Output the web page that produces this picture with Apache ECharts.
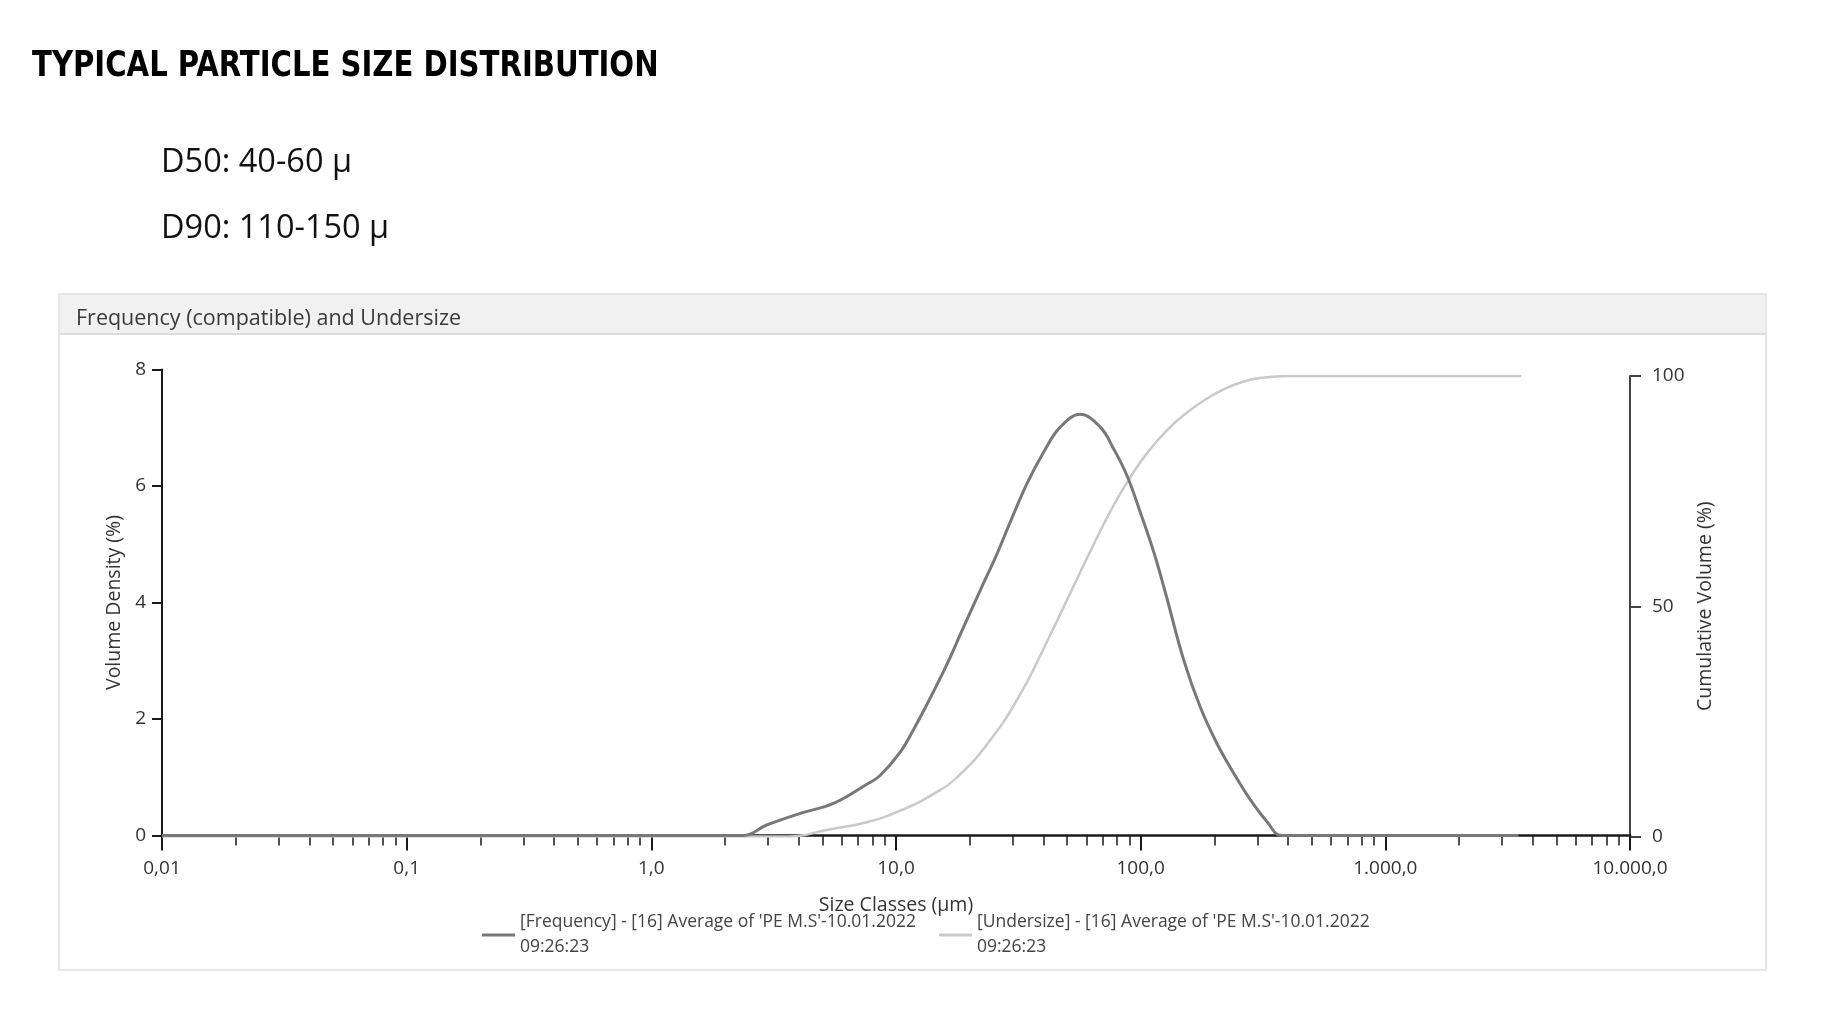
<!DOCTYPE html>
<html>
<head>
<meta charset="utf-8">
<script src="https://cdn.jsdelivr.net/npm/echarts@6/dist/echarts.min.js"></script>
<style>
  html, body { margin: 0; padding: 0; background: #fff; }
  #main { width: 1840px; height: 1034px; }
</style>
</head>
<body>
<div id="main"></div>
<script>
// size classes (µm) and volume density (%)
const freqSizes = [0.01, 2.38, 2.96, 4.06, 5.55, 7.6, 8.61, 10.4, 11.8, 13.8, 16.2, 18.9, 22.1, 25.9, 29.3, 34.3, 40.1, 46.9, 56.6, 68.4, 77.5, 87.9, 99.6, 113, 126, 150, 175, 205, 240, 281, 328, 378, 3500];
const frequency = [0, 0, 0.18, 0.38, 0.55, 0.88, 1.03, 1.43, 1.82, 2.36, 2.95, 3.58, 4.21, 4.84, 5.38, 6.04, 6.58, 7.01, 7.23, 7.01, 6.64, 6.18, 5.55, 4.87, 4.18, 3.01, 2.21, 1.58, 1.07, 0.61, 0.24, 0, 0];

// cumulative volume (%) - undersize curve
const underSizes = [0.01, 3.47, 5.55, 7.6, 10.4, 14.2, 17.7, 24, 32.2, 42, 51.5, 64.1, 77.5, 90.7, 106, 128, 155, 187, 220, 260, 310, 400, 3600];
const undersize = [0, 0, 1.7, 3.1, 5.6, 9.2, 12.8, 20.6, 30.9, 43, 52.8, 63.3, 71.9, 78, 83.2, 88.2, 92.1, 95.1, 97.2, 98.7, 99.6, 100, 100];

const xTickLabels = ['0,01', '0,1', '1,0', '10,0', '100,0', '1.000,0', '10.000,0'];
const minorMultipliers = [2, 3, 4, 5, 6, 7, 8, 9];
const decades = [-2, -1, 0, 1, 2, 3];

const freqName = "[Frequency] - [16] Average of 'PE M.S'-10.01.2022 09:26:23";
const underName = "[Undersize] - [16] Average of 'PE M.S'-10.01.2022 09:26:23";

const FONT = "'Open Sans', 'Noto Sans', sans-serif";

// minor ticks at 2..9 of every decade, in log10 units for the helper axis
const minorTicks = [];
decades.forEach(d => minorMultipliers.forEach(m => minorTicks.push(Math.log10(m) + d)));

const chart = echarts.init(document.getElementById('main'));

const option = {
  animation: false,
  backgroundColor: '#fff',
  textStyle: { fontFamily: FONT },
  graphic: [
    { type: 'rect', z: -10, shape: { x: 59, y: 294, width: 1707, height: 676 },
      style: { fill: '#fff', stroke: '#e6e6e6', lineWidth: 2 } },
    { type: 'rect', z: -9, shape: { x: 60, y: 295, width: 1705, height: 39 },
      style: { fill: '#f1f1f1' } },
    { type: 'line', z: -9, shape: { x1: 60, y1: 334, x2: 1765, y2: 334 },
      style: { stroke: '#dcdcdc', lineWidth: 2 } },
    { type: 'text', x: 76, y: 319,
      style: { text: 'Frequency (compatible) and Undersize', fontFamily: FONT, fontSize: 21.5,
               fill: '#3a3a3a', verticalAlign: 'middle' } },
    { type: 'text', x: 32, y: 67, scaleX: 0.9,
      style: { text: 'TYPICAL PARTICLE SIZE DISTRIBUTION',
               fontFamily: "'Liberation Sans Narrow', 'DejaVu Sans Condensed', sans-serif",
               fontWeight: 'bold', fontSize: 36, fill: '#000', verticalAlign: 'middle' } },
    { type: 'text', x: 161, y: 163,
      style: { text: 'D50: 40-60 µ', fontFamily: FONT, fontSize: 32.5, fill: '#111', verticalAlign: 'middle' } },
    { type: 'text', x: 161, y: 229,
      style: { text: 'D90: 110-150 µ', fontFamily: FONT, fontSize: 32.5, fill: '#111', verticalAlign: 'middle' } }
  ],
  legend: {
    left: 482,
    top: 910,
    padding: 0,
    icon: 'rect',
    itemWidth: 33,
    itemHeight: 3,
    itemGap: 23,
    textStyle: { fontFamily: FONT, fontSize: 17.5, color: '#444', lineHeight: 25 },
    formatter: name => name.replace(' 09:', '\n09:'),
    data: [freqName, underName]
  },
  grid: [
    { left: 162, right: 210, top: 369.5, bottom: 198.5 },
    { left: 162, right: 210, top: 376, bottom: 197.5 }
  ],
  xAxis: [
    {
      type: 'log', gridIndex: 0, logBase: 10, min: 0.01, max: 10000, interval: 1,
      axisLine: { onZero: false, lineStyle: { color: '#1a1a1a', width: 2.5 } },
      axisTick: { length: 15, lineStyle: { color: '#1a1a1a', width: 2 } },
      axisLabel: {
        margin: 24, color: '#333', fontSize: 19, fontFamily: FONT,
        showMinLabel: true, showMaxLabel: true,
        formatter: v => xTickLabels[Math.round(Math.log10(v)) + 2]
      },
      splitLine: { show: false },
      name: 'Size Classes (µm)', nameLocation: 'middle', nameGap: 60,
      nameTextStyle: { fontFamily: FONT, fontSize: 19.5, color: '#333' }
    },
    {
      type: 'value', gridIndex: 0, position: 'bottom', min: -2, max: 4,
      axisLine: { show: false, onZero: false },
      axisTick: { customValues: minorTicks, length: 10, lineStyle: { color: '#1a1a1a', width: 1.5 } },
      axisLabel: { show: false },
      splitLine: { show: false }
    },
    { type: 'log', gridIndex: 1, logBase: 10, min: 0.01, max: 10000, show: false }
  ],
  yAxis: [
    {
      type: 'value', gridIndex: 0, position: 'left', min: 0, max: 8, interval: 2,
      axisLine: { show: true, onZero: false, lineStyle: { color: '#1a1a1a', width: 2 } },
      axisTick: { show: true, length: 10, lineStyle: { color: '#1a1a1a', width: 2 } },
      axisLabel: { margin: 16, color: '#333', fontSize: 19, fontFamily: FONT },
      splitLine: { show: false },
      name: 'Volume Density (%)', nameLocation: 'middle', nameRotate: 90, nameGap: 37,
      nameTextStyle: { fontFamily: FONT, fontSize: 19.5, color: '#333' }
    },
    {
      type: 'value', gridIndex: 1, position: 'right', min: 0, max: 100, interval: 50,
      axisLine: { show: true, onZero: false, lineStyle: { color: '#444', width: 2 } },
      axisTick: { show: true, length: 11, lineStyle: { color: '#444', width: 2 } },
      axisLabel: { margin: 22, color: '#333', fontSize: 19, fontFamily: FONT },
      splitLine: { show: false },
      name: 'Cumulative Volume (%)', nameLocation: 'middle', nameRotate: 90, nameGap: 65,
      nameTextStyle: { fontFamily: FONT, fontSize: 19.5, color: '#333' }
    }
  ],
  series: [
    {
      name: freqName, type: 'line', xAxisIndex: 0, yAxisIndex: 0,
      data: freqSizes.map((s, i) => [s, frequency[i]]),
      smooth: 0.4, showSymbol: false, symbol: 'none',
      lineStyle: { color: '#787878', width: 3 },
      itemStyle: { color: '#787878' },
      z: 3
    },
    {
      name: underName, type: 'line', xAxisIndex: 2, yAxisIndex: 1,
      data: underSizes.map((s, i) => [s, undersize[i]]),
      smooth: 0.5, showSymbol: false, symbol: 'none',
      lineStyle: { color: '#c9c9c9', width: 2.5 },
      itemStyle: { color: '#c9c9c9' },
      z: 2
    }
  ]
};

chart.setOption(option);
</script>
</body>
</html>
